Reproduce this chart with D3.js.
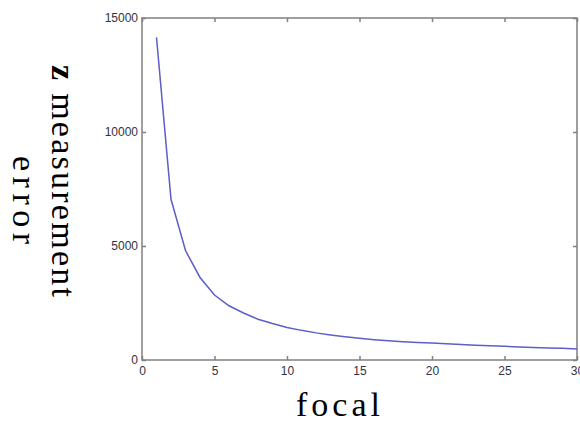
<!DOCTYPE html>
<html>
<head>
<meta charset="utf-8">
<script src="https://cdn.jsdelivr.net/npm/d3@7"></script>
<style>
  html, body { margin: 0; padding: 0; background: #fff; }
  svg { display: block; }
  .lab { font-family: 'Liberation Serif', 'DejaVu Serif', serif; font-size: 34px; }
</style>
</head>
<body>
<svg id="chart" width="580" height="425"></svg>
<script>
const focal = [1,2,3,4,5,6,7,8,9,10,11,12,13,14,15,16,17,18,19,20,21,22,23,24,25,26,27,28,29,30];
const zError = [14150,7050,4800,3620,2850,2380,2060,1790,1600,1430,1300,1190,1100,1020,950,890,840,800,770,745,710,680,650,620,600,570,550,530,510,480];
const xTicks = [0,5,10,15,20,25,30];
const yTicks = [0,5000,10000,15000];
const xLabel = "focal";
const yLabelLine1Bold = "z";
const yLabelLine1 = " measurement";
const yLabelLine2 = "error";

const svg = d3.select("#chart");
const L = 142, R = 577, T = 18, B = 360;
const x = d3.scaleLinear().domain([0, 30]).range([L, R]);
const y = d3.scaleLinear().domain([0, 15000]).range([B, T]);

const axisColor = "#808080";
const tickFont = "'Liberation Sans', Arial, sans-serif";

function styleAxis(g) {
  g.select(".domain").remove();
  g.selectAll(".tick line").attr("stroke", axisColor).attr("stroke-width", 1.5);
  g.selectAll(".tick text").attr("fill", "#333340").style("font-family", tickFont).style("font-size", "12px");
}

svg.append("g").attr("transform", `translate(0,${B})`)
  .call(d3.axisBottom(x).tickValues(xTicks).tickSizeInner(-4).tickSizeOuter(0).tickPadding(6).tickFormat(d3.format("d")))
  .call(styleAxis);
svg.append("g").attr("transform", `translate(0,${T})`)
  .call(d3.axisTop(x).tickValues(xTicks).tickSizeInner(-4).tickSizeOuter(0).tickFormat(""))
  .call(styleAxis);
svg.append("g").attr("transform", `translate(${L},0)`)
  .call(d3.axisLeft(y).tickValues(yTicks).tickSizeInner(-4).tickSizeOuter(0).tickPadding(4).tickFormat(d3.format("d")))
  .call(styleAxis);
svg.append("g").attr("transform", `translate(${R},0)`)
  .call(d3.axisRight(y).tickValues(yTicks).tickSizeInner(-4).tickSizeOuter(0).tickFormat(""))
  .call(styleAxis);

svg.append("rect").attr("x", L).attr("y", T).attr("width", R - L).attr("height", B - T)
  .attr("fill", "none").attr("stroke", axisColor).attr("stroke-width", 1.5);

const line = d3.line().x((d, i) => x(focal[i])).y(d => y(d));
svg.append("path").datum(zError).attr("d", line)
  .attr("fill", "none").attr("stroke", "#5b5fc7").attr("stroke-width", 1.5);

svg.append("text").attr("class", "lab").attr("x", 338).attr("y", 416).attr("text-anchor", "middle")
  .attr("textLength", 84).attr("lengthAdjust", "spacing")
  .attr("fill", "#000").text(xLabel);

const yl1 = svg.append("text").attr("class", "lab").attr("transform", "translate(52,181) rotate(90)")
  .attr("text-anchor", "middle").attr("textLength", 232).attr("lengthAdjust", "spacing").attr("fill", "#000");
yl1.append("tspan").attr("font-weight", "bold").text(yLabelLine1Bold);
yl1.append("tspan").text(yLabelLine1);

svg.append("text").attr("class", "lab").attr("transform", "translate(13,200) rotate(90)")
  .attr("text-anchor", "middle").attr("textLength", 88).attr("lengthAdjust", "spacing")
  .attr("fill", "#000").text(yLabelLine2);
</script>
</body>
</html>
